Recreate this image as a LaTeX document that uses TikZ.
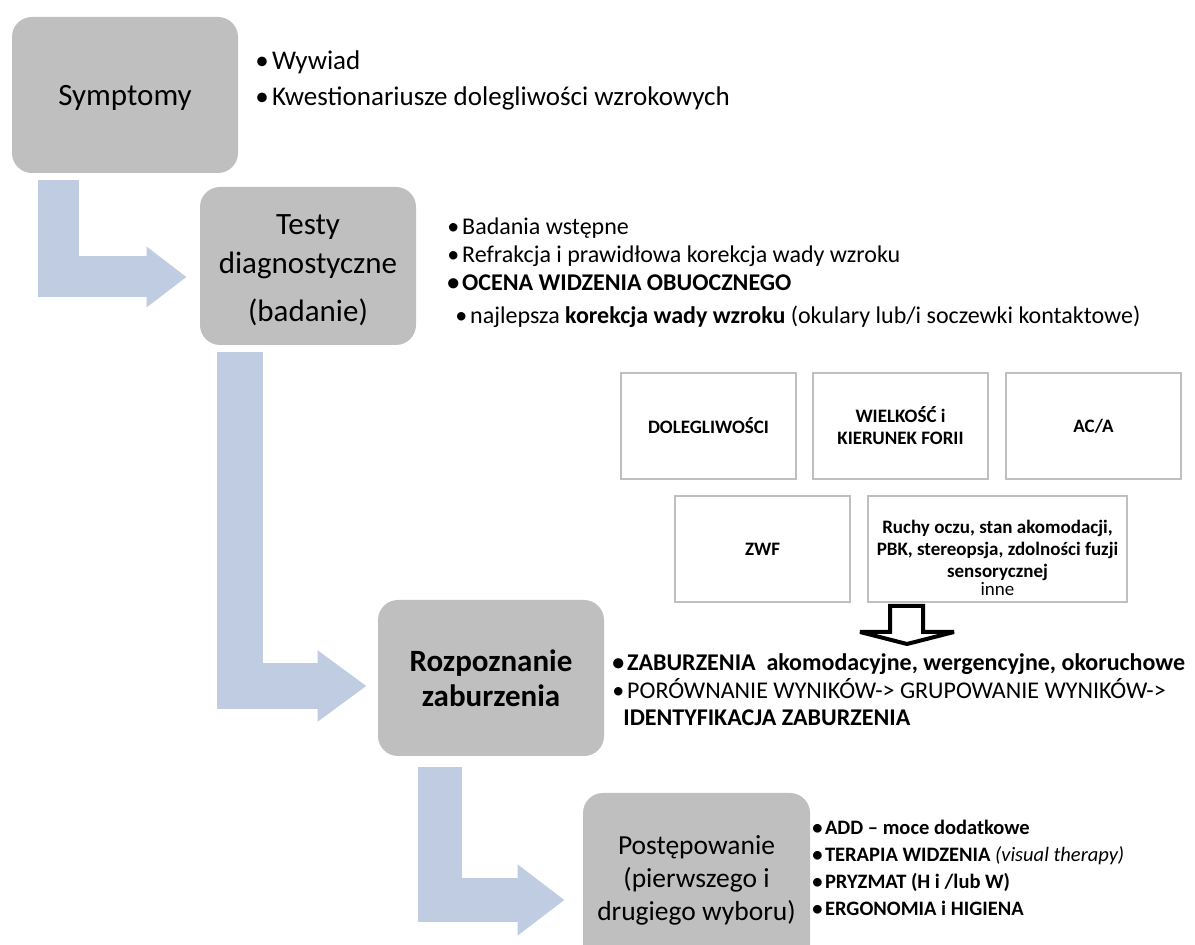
\documentclass[tikz,border=0pt]{standalone}
\usepackage{fontspec}
\setmainfont{Carlito}
\usetikzlibrary{arrows.meta}
\usetikzlibrary{calc}
\definecolor{stagegray}{RGB}{191,191,191}
\definecolor{flowblue}{RGB}{191,204,226}
\newcommand{\itm}{•\hspace{0.12em}}
\tikzset{stage/.style = {fill = stagegray, rounded corners = 10pt, inner sep = 0, align = center}}
\tikzset{factor/.style = {draw = stagegray, line width = 1pt, inner sep = 0, align = center,
                          minimum width = 87.5pt, minimum height = 53pt,
                          font = \fontsize{9.5}{11}\selectfont\bfseries}}
\tikzset{flow/.style = {draw = flowblue, line join = miter}}
\tikzset{hollow/.style = {draw = black, fill = white, line width = 2pt, line join = miter, miter limit = 3}}
\tikzset{list/.style = {anchor = west, inner sep = 0, align = left}}

\begin{document}
\begin{tikzpicture}[x = 0.5pt, y = -0.5pt]
      \useasboundingbox (0, 0) rectangle (1195, 945);
      \clip (0, 0) rectangle (1195, 945);

      % stages
      \node [stage, minimum width = 113pt, minimum height = 78pt, font = \fontsize{15.5}{18}\selectfont] (sym) at (125, 95) {\rule{0pt}{13pt}Symptomy};
      \node [stage, minimum width = 108pt, minimum height = 79pt, font = \fontsize{15.5}{19.5}\selectfont] (test) at (308, 266) {\rule{0pt}{14pt}Testy\\diagnostyczne\\[4.5pt](badanie)};
      \node [stage, minimum width = 113pt, minimum height = 78pt, font = \fontsize{15.5}{17.5}\selectfont\bfseries] (roz) at (491, 678) {Rozpoznanie\\zaburzenia};
      \node [stage, minimum width = 113.5pt, minimum height = 87pt, font = \fontsize{13.75}{16.5}\selectfont] (post) at (696.5, 880) {Postępowanie\\(pierwszego i\\drugiego wyboru)};

      % lists
      \node [list, font = \fontsize{13.5}{18}\selectfont] (symlist) at (255, 80) {\itm Wywiad\\\itm Kwestionariusze dolegliwości wzrokowych};
      \node [list, font = \fontsize{12}{14}\selectfont] (testlist) at (447, 273)
            {\itm Badania wstępne\\\itm Refrakcja i prawidłowa korekcja wady wzroku\\\textbf{\itm OCENA WIDZENIA OBUOCZNEGO}\\[2.5pt]
             \hspace{4pt}\itm najlepsza \textbf{korekcja wady wzroku} (okulary lub/i soczewki kontaktowe)};
      \node [list, font = \fontsize{12}{13.75}\selectfont] (rozlist) at (612, 690)
            {\textbf{\itm ZABURZENIA\ \ akomodacyjne, wergencyjne, okoruchowe}\\\itm PORÓWNANIE WYNIKÓW-> GRUPOWANIE WYNIKÓW->\\\hspace{5.5pt}\textbf{IDENTYFIKACJA ZABURZENIA}};
      \node [list, font = \fontsize{10.25}{13.5}\selectfont\bfseries] (postlist) at (812, 868)
            {\itm ADD – moce dodatkowe\\\itm TERAPIA WIDZENIA {\mdseries\itshape (visual therapy)}\\\itm PRYZMAT (H i /lub W)\\\itm ERGONOMIA i HIGIENA};

      % factors
      \node [factor] (dol) at (708.5, 426) {DOLEGLIWOŚCI};
      \node [factor] (wiel) at (900.5, 426) {WIELKOŚĆ i\\KIERUNEK FORII};
      \node [factor] (aca) at (1093.5, 426) {AC/A};
      \node [factor] (zwf) at (762.5, 549) {ZWF};
      \node [factor, minimum width = 129.5pt] (ruchy) at (997.5, 549)
            {\rule{0pt}{16pt}Ruchy oczu, stan akomodacji,\\PBK, stereopsja, zdolności fuzji\\sensorycznej\\[-2pt]{\mdseries inne}};

      % flow arrows
      \draw [flow, line width = 20.5pt, -{Triangle[length = 20pt, width = 29pt]}]
            ($(sym.south west) + (47, 7)$) |- ($(test.west) + (-13, 11)$);
      \draw [flow, line width = 23pt, -{Triangle[length = 24.5pt, width = 34pt]}]
            ($(test.south west) + (40, 7)$) |- ($(roz.west) + (-11, 8)$);
      \draw [flow, line width = 22pt, -{Triangle[length = 23.5pt, width = 34pt]}]
            ($(roz.south west) + (62, 11)$) |- ($(post.west) + (-18, 20)$);

      \coordinate (drop) at ($(ruchy.south west) + (40, 0)$);
      \draw [hollow, shift = {(drop)}] (-17, 3) -- (16, 3) -- (16, 29) -- (47, 29) -- (0, 41)
            -- (-47, 29) -- (-17, 29) -- cycle;
\end{tikzpicture}
\end{document}
